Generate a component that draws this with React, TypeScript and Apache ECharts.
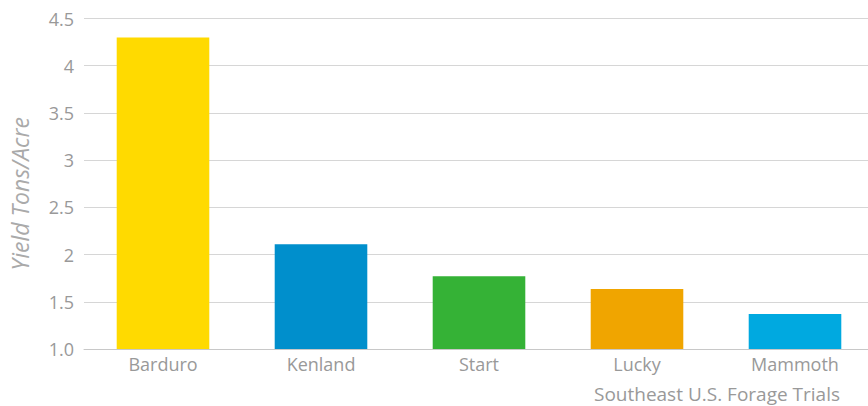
import React, { useEffect, useRef } from "react";
import * as echarts from "echarts";

const categories = ["Barduro", "Kenland", "Start", "Lucky", "Mammoth"];
const values = [4.3, 2.11, 1.77, 1.635, 1.37];
const colors = ["#FFDA00", "#008FCC", "#35B236", "#F0A500", "#00A9E0"];
const yTicks = [1, 1.5, 2, 2.5, 3, 3.5, 4, 4.5];
const yTickLabels = ["1.0", "1.5", "2", "2.5", "3", "3.5", "4", "4.5"];
const yAxisTitle = "Yield Tons/Acre";
const xAxisTitle = "Southeast U.S. Forage Trials";

export default function App() {
  const ref = useRef<HTMLDivElement>(null);
  useEffect(() => {
    document.body.style.margin = "0";
    document.body.style.overflow = "hidden";
    if (!ref.current) return;
    const chart = echarts.init(ref.current, undefined, { renderer: "svg" });
    const font = "'Open Sans', sans-serif";
    chart.setOption({
      animation: false,
      grid: { left: 81, width: 793, top: 18.5, height: 330.5, containLabel: false },
      xAxis: {
        type: "category",
        data: categories,
        axisLine: { show: true, lineStyle: { color: "#c8c8c8", width: 1 } },
        axisTick: { show: false },
        axisLabel: { color: "#999999", fontSize: 18, fontFamily: font, margin: 6 },
      },
      yAxis: {
        type: "value",
        min: yTicks[0],
        max: yTicks[yTicks.length - 1],
        interval: 0.5,
        axisLine: { show: false },
        axisTick: { show: false },
        splitLine: { lineStyle: { color: "#d6d6d6", width: 1 } },
        axisLabel: {
          color: "#999999",
          fontSize: 18,
          fontFamily: font,
          margin: 10,
          formatter: (v: number) => {
            const i = yTicks.findIndex((t) => Math.abs(t - v) < 1e-9);
            return i >= 0 ? yTickLabels[i] : String(v);
          },
        },
        name: yAxisTitle,
        nameLocation: "middle",
        nameGap: 53,
        nameTextStyle: { color: "#aaaaaa", fontSize: 23, fontStyle: "italic", fontFamily: font, padding: [0, 0, 0, -20] },
      },
      graphic: [
        {
          type: "text",
          x: 840,
          y: 384,
          style: { text: xAxisTitle, fill: "#999999", fontSize: 19, fontFamily: font, textAlign: "right", textVerticalAlign: "top" },
        },
      ],
      series: [
        {
          type: "bar",
          barWidth: "58.6%",
          data: values.map((v, i) => ({ value: v, itemStyle: { color: colors[i] } })),
        },
      ],
    });
    return () => chart.dispose();
  }, []);
  return <div ref={ref} style={{ width: 890, height: 406 }} />;
}
